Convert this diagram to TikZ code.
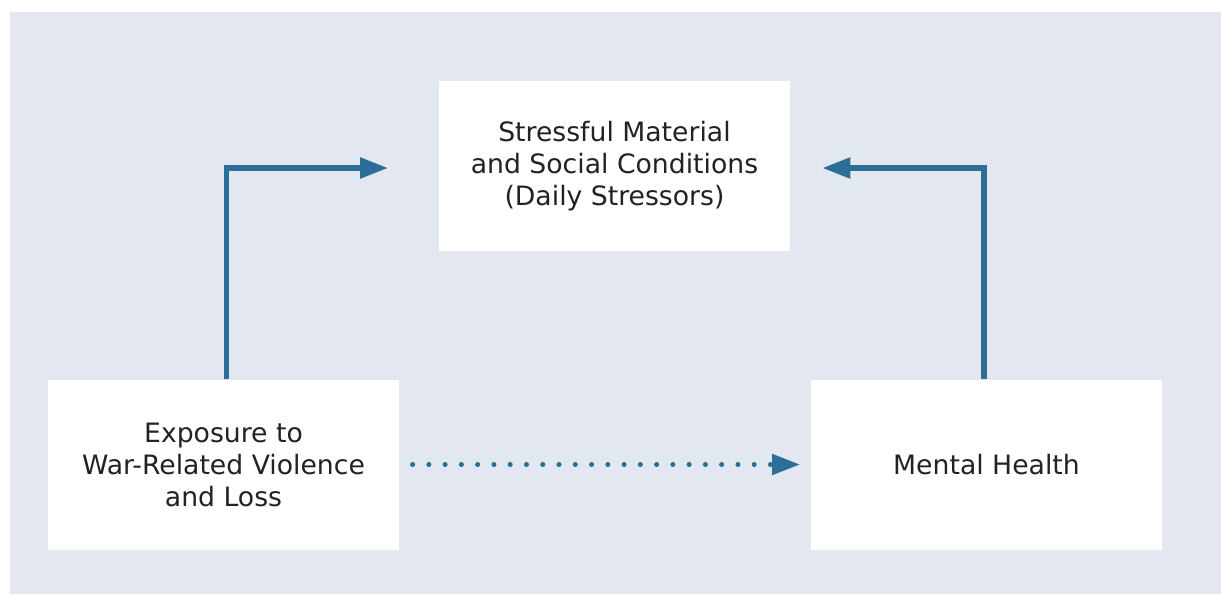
\documentclass[tikz,border=0pt]{standalone}
\usepackage{fontspec}
\setmainfont{DejaVu Sans}
\usetikzlibrary{arrows.meta}
\definecolor{bgc}{HTML}{E3E8F0}
\definecolor{arrc}{HTML}{2C6E98}
\definecolor{txtc}{HTML}{222222}
\begin{document}
\begin{tikzpicture}[x=0.75pt,y=-0.75pt,
  box/.style={fill=white,draw=none,minimum width=263.25pt,minimum height=127.5pt,
    align=center,font=\fontsize{20}{24}\selectfont,text=txtc,inner sep=0pt},
  arr/.style={draw=arrc,line width=4pt,-{Triangle[length=21pt,width=15pt]}},
  dotarr/.style={draw=arrc,line width=3.8pt,line cap=round,dash pattern=on 0pt off 12.2pt,
    -{Triangle[length=21pt,width=15pt,line cap=butt]}}]
\useasboundingbox (0,0) rectangle (1221,594);
\fill[bgc] (10,12) rectangle (1221,594);
\node[box] (top) at (614.5,166) {Stressful Material\\and Social Conditions\\(Daily Stressors)};
\node[box] (left) at (223.5,464.5) {Exposure to\\War-Related Violence\\and Loss};
\node[box] (right) at (986.5,464.5) {Mental Health};
\coordinate (la) at ([xshift=-38pt,yshift=-1.5pt]top.west);
\coordinate (ra) at ([xshift=24pt,yshift=-1.5pt]top.east);
\draw[arr] ([xshift=2pt]left.north) |- (la);
\draw[arr] ([xshift=-2pt]right.north) |- (ra);
\draw[dotarr] ([xshift=10pt]left.east) -- ([xshift=-8pt]right.west);
\end{tikzpicture}
\end{document}
